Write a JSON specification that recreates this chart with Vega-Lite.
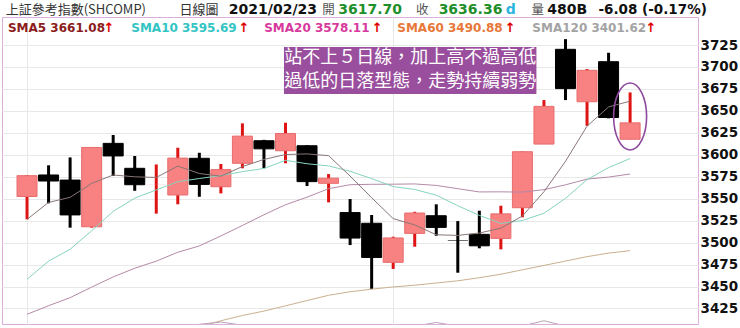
{
  "$schema": "https://vega.github.io/schema/vega-lite/v6.json",
  "width": 696,
  "height": 307,
  "autosize": "none",
  "padding": {"left": 2, "top": 17, "right": 42, "bottom": 4},
  "background": "white",
  "config": {
    "view": {"stroke": "#dcaedc", "strokeWidth": 1},
    "axis": {"labelOverlap": false}
  },
  "data": {
    "values": [
      {"date": "2021-01-07", "i": 0, "open": 3552.5, "high": 3577.0, "low": 3526.5, "close": 3576.20, "sma5": 3526.4, "sma10": 3458.2, "sma20": 3418.3, "sma60": null, "sma120": null},
      {"date": "2021-01-08", "i": 1, "open": 3577.0, "high": 3588.0, "low": 3544.7, "close": 3570.11, "sma5": 3545.8, "sma10": 3478.9, "sma20": 3428.1, "sma60": null, "sma120": null},
      {"date": "2021-01-11", "i": 2, "open": 3571.2, "high": 3597.0, "low": 3517.0, "close": 3531.50, "sma5": 3551.5, "sma10": 3492.4, "sma20": 3437.3, "sma60": null, "sma120": null},
      {"date": "2021-01-12", "i": 3, "open": 3518.0, "high": 3608.5, "low": 3517.0, "close": 3608.34, "sma5": 3567.4, "sma10": 3513.5, "sma20": 3449.3, "sma60": null, "sma120": null},
      {"date": "2021-01-13", "i": 4, "open": 3613.0, "high": 3622.5, "low": 3575.8, "close": 3598.65, "sma5": 3577.0, "sma10": 3535.5, "sma20": 3460.9, "sma60": null, "sma120": null},
      {"date": "2021-01-14", "i": 5, "open": 3584.6, "high": 3598.6, "low": 3559.0, "close": 3565.90, "sma5": 3574.9, "sma10": 3550.6, "sma20": 3470.8, "sma60": null, "sma120": null},
      {"date": "2021-01-15", "i": 6, "open": 3566.2, "high": 3589.0, "low": 3533.0, "close": 3566.38, "sma5": 3574.2, "sma10": 3560.0, "sma20": 3478.9, "sma60": null, "sma120": null},
      {"date": "2021-01-18", "i": 7, "open": 3554.2, "high": 3608.0, "low": 3543.6, "close": 3596.22, "sma5": 3587.1, "sma10": 3569.3, "sma20": 3489.0, "sma60": null, "sma120": null},
      {"date": "2021-01-19", "i": 8, "open": 3596.0, "high": 3602.3, "low": 3552.2, "close": 3566.27, "sma5": 3578.7, "sma10": 3573.0, "sma20": 3496.2, "sma60": 3404.0, "sma120": 3407.0},
      {"date": "2021-01-20", "i": 9, "open": 3563.6, "high": 3589.5, "low": 3556.0, "close": 3583.09, "sma5": 3575.6, "sma10": 3576.3, "sma20": 3507.6, "sma60": 3411.0, "sma120": 3409.5},
      {"date": "2021-01-21", "i": 10, "open": 3590.3, "high": 3635.8, "low": 3584.6, "close": 3621.26, "sma5": 3586.6, "sma10": 3580.8, "sma20": 3519.5, "sma60": 3417.0, "sma120": 3406.0},
      {"date": "2021-01-22", "i": 11, "open": 3616.0, "high": 3617.0, "low": 3584.6, "close": 3606.75, "sma5": 3594.7, "sma10": 3584.4, "sma20": 3531.7, "sma60": 3422.0, "sma120": 3404.0},
      {"date": "2021-01-25", "i": 12, "open": 3604.6, "high": 3636.5, "low": 3590.3, "close": 3624.24, "sma5": 3600.3, "sma10": 3593.7, "sma20": 3543.1, "sma60": 3428.0, "sma120": 3403.0},
      {"date": "2021-01-26", "i": 13, "open": 3610.3, "high": 3611.0, "low": 3564.4, "close": 3569.43, "sma5": 3601.0, "sma10": 3589.8, "sma20": 3551.7, "sma60": 3434.0, "sma120": 3403.0},
      {"date": "2021-01-27", "i": 14, "open": 3567.5, "high": 3578.0, "low": 3545.8, "close": 3573.34, "sma5": 3599.0, "sma10": 3587.3, "sma20": 3561.4, "sma60": 3440.0, "sma120": 3403.0},
      {"date": "2021-01-28", "i": 15, "open": 3534.2, "high": 3549.6, "low": 3497.2, "close": 3505.18, "sma5": 3575.8, "sma10": 3581.2, "sma20": 3565.9, "sma60": 3444.0, "sma120": 3403.0},
      {"date": "2021-01-29", "i": 16, "open": 3522.0, "high": 3531.4, "low": 3447.0, "close": 3483.07, "sma5": 3551.1, "sma10": 3572.9, "sma20": 3566.4, "sma60": 3447.0, "sma120": 3404.0},
      {"date": "2021-02-01", "i": 17, "open": 3477.5, "high": 3506.7, "low": 3470.0, "close": 3505.28, "sma5": 3527.3, "sma10": 3563.8, "sma20": 3566.5, "sma60": 3449.5, "sma120": 3405.0},
      {"date": "2021-02-02", "i": 18, "open": 3510.5, "high": 3535.1, "low": 3495.3, "close": 3533.68, "sma5": 3520.1, "sma10": 3560.5, "sma20": 3566.8, "sma60": 3451.5, "sma120": 3405.0},
      {"date": "2021-02-03", "i": 19, "open": 3530.6, "high": 3543.6, "low": 3507.8, "close": 3517.31, "sma5": 3508.9, "sma10": 3554.0, "sma20": 3565.1, "sma60": 3454.0, "sma120": 3409.0},
      {"date": "2021-02-04", "i": 20, "open": 3502.5, "high": 3524.5, "low": 3465.7, "close": 3501.86, "sma5": 3508.2, "sma10": 3542.0, "sma20": 3561.4, "sma60": 3456.5, "sma120": 3405.0},
      {"date": "2021-02-05", "i": 21, "open": 3509.4, "high": 3536.3, "low": 3493.5, "close": 3496.33, "sma5": 3510.9, "sma10": 3531.0, "sma20": 3557.7, "sma60": 3460.0, "sma120": 3405.0},
      {"date": "2021-02-08", "i": 22, "open": 3504.8, "high": 3542.0, "low": 3492.3, "close": 3532.71, "sma5": 3516.4, "sma10": 3521.8, "sma20": 3557.8, "sma60": 3464.0, "sma120": 3404.0},
      {"date": "2021-02-09", "i": 23, "open": 3539.7, "high": 3603.6, "low": 3528.8, "close": 3603.49, "sma5": 3530.3, "sma10": 3525.2, "sma20": 3557.5, "sma60": 3469.0, "sma120": 3405.0},
      {"date": "2021-02-10", "i": 24, "open": 3612.2, "high": 3662.3, "low": 3612.2, "close": 3655.09, "sma5": 3557.9, "sma10": 3533.4, "sma20": 3560.3, "sma60": 3474.0, "sma120": 3411.0},
      {"date": "2021-02-18", "i": 25, "open": 3720.1, "high": 3731.7, "low": 3662.3, "close": 3675.36, "sma5": 3592.6, "sma10": 3550.4, "sma20": 3565.8, "sma60": 3479.0, "sma120": 3405.0},
      {"date": "2021-02-19", "i": 26, "open": 3660.4, "high": 3697.6, "low": 3633.0, "close": 3696.17, "sma5": 3632.6, "sma10": 3571.7, "sma20": 3572.3, "sma60": 3484.0, "sma120": 3403.0},
      {"date": "2021-02-22", "i": 27, "open": 3706.0, "high": 3716.2, "low": 3641.5, "close": 3642.44, "sma5": 3654.5, "sma10": 3585.4, "sma20": 3574.6, "sma60": 3488.0, "sma120": 3402.0},
      {"date": "2021-02-23", "i": 28, "open": 3617.70, "high": 3671.0, "low": 3617.7, "close": 3636.36, "sma5": 3661.08, "sma10": 3595.69, "sma20": 3578.11, "sma60": 3490.88, "sma120": 3401.62}
    ]
  },
  "encoding": {
    "x": {
      "field": "i",
      "type": "quantitative",
      "scale": {"domain": [-0.93, 30.92], "nice": false, "zero": false},
      "axis": {"values": [0, 17], "tickCount": 40, "grid": true, "gridColor": "#e6e6e6", "labels": false, "ticks": false, "domain": false, "title": null}
    }
  },
  "layer": [
    {
      "mark": {"type": "rule", "strokeWidth": 3},
      "encoding": {
        "y": {
          "field": "low",
          "type": "quantitative",
          "scale": {"domain": [3407.3, 3756.9], "nice": false, "zero": false},
          "axis": {
            "orient": "right",
            "values": [3425, 3450, 3475, 3500, 3525, 3550, 3575, 3600, 3625, 3650, 3675, 3700, 3725],
            "tickCount": 40,
            "format": "d",
            "labelOverlap": false,
            "title": null,
            "grid": true,
            "gridColor": "#e8e8e8",
            "ticks": false,
            "domain": false,
            "labelFont": "DejaVu Sans",
            "labelFontWeight": "bold",
            "labelFontSize": 13.5,
            "labelColor": "#111111",
            "labelPadding": 2
          }
        },
        "y2": {"field": "high"},
        "color": {"condition": {"test": "datum.close >= datum.open", "value": "#de1414"}, "value": "#000000"}
      }
    },
    {
      "mark": {"type": "bar", "size": 20, "strokeWidth": 1},
      "encoding": {
        "y": {"field": "open", "type": "quantitative", "axis": {"title": null}},
        "y2": {"field": "close"},
        "fill": {"condition": {"test": "datum.close >= datum.open", "value": "#f88181"}, "value": "#000000"},
        "stroke": {"condition": {"test": "datum.close >= datum.open", "value": "#e86c6c"}, "value": "#000000"},
        "strokeOpacity": {"condition": {"test": "abs(datum.close - datum.open) < 1", "value": 0}, "value": 1}
      }
    },
    {
      "mark": {"type": "line", "strokeWidth": 1, "color": "#cbb08e", "clip": true},
      "encoding": {"y": {"field": "sma60", "type": "quantitative", "axis": {"title": null}}}
    },
    {
      "mark": {"type": "line", "strokeWidth": 1, "color": "#b7a3b7", "clip": true},
      "encoding": {"y": {"field": "sma120", "type": "quantitative", "axis": {"title": null}}}
    },
    {
      "mark": {"type": "line", "strokeWidth": 1, "color": "#b48aa8", "clip": true},
      "encoding": {"y": {"field": "sma20", "type": "quantitative", "axis": {"title": null}}}
    },
    {
      "mark": {"type": "line", "strokeWidth": 1, "color": "#86d3c0", "clip": true},
      "encoding": {"y": {"field": "sma10", "type": "quantitative", "axis": {"title": null}}}
    },
    {
      "mark": {"type": "line", "strokeWidth": 1, "color": "#8a7676", "clip": true},
      "encoding": {"y": {"field": "sma5", "type": "quantitative", "axis": {"title": null}}}
    },
    {
      "transform": [{"filter": "datum.i == 28"}],
      "mark": {"type": "point", "filled": false, "stroke": "#8e4a9e", "strokeWidth": 1.6, "opacity": 1, "size": 4489,
        "shape": "M0,-1C0.272,-1 0.4925,-0.5523 0.4925,0C0.4925,0.5523 0.272,1 0,1C-0.272,1 -0.4925,0.5523 -0.4925,0C-0.4925,-0.5523 -0.272,-1 0,-1Z"},
      "encoding": {"y": {"datum": 3643.6, "type": "quantitative", "axis": {"title": null}}}
    },
    {
      "transform": [{"filter": "datum.i == 28"}],
      "mark": {"type": "rect", "color": "#9a4f9e"},
      "encoding": {
        "x": {"datum": 11.93, "type": "quantitative"},
        "x2": {"datum": 23.65},
        "y": {"datum": 3722.7, "type": "quantitative", "axis": {"title": null}},
        "y2": {"datum": 3669.2}
      }
    },
    {
      "transform": [{"filter": "datum.i == 28"}],
      "mark": {"type": "text", "text": "站不上５日線，加上高不過高低", "font": "Noto Sans CJK TC", "fontSize": 18, "color": "#ffffff", "align": "center", "baseline": "middle"},
      "encoding": {"x": {"datum": 17.79, "type": "quantitative"}, "y": {"datum": 3709.9, "type": "quantitative", "axis": {"title": null}}}
    },
    {
      "transform": [{"filter": "datum.i == 28"}],
      "mark": {"type": "text", "text": "過低的日落型態，走勢持續弱勢", "font": "Noto Sans CJK TC", "fontSize": 18, "color": "#ffffff", "align": "center", "baseline": "middle"},
      "encoding": {"x": {"datum": 17.79, "type": "quantitative"}, "y": {"datum": 3683.2, "type": "quantitative", "axis": {"title": null}}}
    },
    {"transform": [{"filter": "datum.i == 28"}], "mark": {"type": "text", "text": "上証參考指數(SHCOMP)", "font": "Noto Sans CJK TC", "fontSize": 13, "color": "#333333", "align": "left", "baseline": "middle"},
      "encoding": {"x": {"datum": -0.99, "type": "quantitative"}, "y": {"datum": 3764.9, "type": "quantitative", "axis": {"title": null}}}},
    {"transform": [{"filter": "datum.i == 28"}], "mark": {"type": "text", "text": "日線圖", "font": "Noto Sans CJK TC", "fontSize": 13, "color": "#333333", "align": "left", "baseline": "middle"},
      "encoding": {"x": {"datum": 7.08, "type": "quantitative"}, "y": {"datum": 3764.9, "type": "quantitative", "axis": {"title": null}}}},
    {"transform": [{"filter": "datum.i == 28"}], "mark": {"type": "text", "text": "2021/02/23", "font": "DejaVu Sans", "fontWeight": "bold", "fontSize": 14, "color": "#111111", "align": "left", "baseline": "middle"},
      "encoding": {"x": {"datum": 9.37, "type": "quantitative"}, "y": {"datum": 3765.4, "type": "quantitative", "axis": {"title": null}}}},
    {"transform": [{"filter": "datum.i == 28"}], "mark": {"type": "text", "text": "開", "font": "Noto Sans CJK TC", "fontSize": 12.5, "color": "#555555", "align": "left", "baseline": "middle"},
      "encoding": {"x": {"datum": 13.71, "type": "quantitative"}, "y": {"datum": 3764.9, "type": "quantitative", "axis": {"title": null}}}},
    {"transform": [{"filter": "datum.i == 28"}], "mark": {"type": "text", "text": "3617.70", "font": "DejaVu Sans", "fontWeight": "bold", "fontSize": 14, "color": "#1f8f2a", "align": "left", "baseline": "middle"},
      "encoding": {"x": {"datum": 14.45, "type": "quantitative"}, "y": {"datum": 3765.4, "type": "quantitative", "axis": {"title": null}}}},
    {"transform": [{"filter": "datum.i == 28"}], "mark": {"type": "text", "text": "收", "font": "Noto Sans CJK TC", "fontSize": 12.5, "color": "#555555", "align": "left", "baseline": "middle"},
      "encoding": {"x": {"datum": 18.06, "type": "quantitative"}, "y": {"datum": 3764.9, "type": "quantitative", "axis": {"title": null}}}},
    {"transform": [{"filter": "datum.i == 28"}], "mark": {"type": "text", "text": "3636.36", "font": "DejaVu Sans", "fontWeight": "bold", "fontSize": 14, "color": "#1f8f2a", "align": "left", "baseline": "middle"},
      "encoding": {"x": {"datum": 19.11, "type": "quantitative"}, "y": {"datum": 3765.4, "type": "quantitative", "axis": {"title": null}}}},
    {"transform": [{"filter": "datum.i == 28"}], "mark": {"type": "text", "text": "d", "font": "DejaVu Sans", "fontWeight": "bold", "fontSize": 14, "color": "#2ab4de", "align": "left", "baseline": "middle"},
      "encoding": {"x": {"datum": 22.23, "type": "quantitative"}, "y": {"datum": 3765.4, "type": "quantitative", "axis": {"title": null}}}},
    {"transform": [{"filter": "datum.i == 28"}], "mark": {"type": "text", "text": "量", "font": "Noto Sans CJK TC", "fontSize": 12.5, "color": "#555555", "align": "left", "baseline": "middle"},
      "encoding": {"x": {"datum": 23.42, "type": "quantitative"}, "y": {"datum": 3764.9, "type": "quantitative", "axis": {"title": null}}}},
    {"transform": [{"filter": "datum.i == 28"}], "mark": {"type": "text", "text": "480B", "font": "DejaVu Sans", "fontWeight": "bold", "fontSize": 14, "color": "#111111", "align": "left", "baseline": "middle"},
      "encoding": {"x": {"datum": 24.15, "type": "quantitative"}, "y": {"datum": 3765.4, "type": "quantitative", "axis": {"title": null}}}},
    {"transform": [{"filter": "datum.i == 28"}], "mark": {"type": "text", "text": "-6.08 (-0.17%)", "font": "DejaVu Sans", "fontWeight": "bold", "fontSize": 13.5, "color": "#111111", "align": "left", "baseline": "middle"},
      "encoding": {"x": {"datum": 26.53, "type": "quantitative"}, "y": {"datum": 3765.4, "type": "quantitative", "axis": {"title": null}}}},
    {"transform": [{"filter": "datum.i == 28"}], "mark": {"type": "text", "text": "SMA5 3661.08", "font": "DejaVu Sans", "fontWeight": "bold", "fontSize": 12, "color": "#8b1c1c", "align": "left", "baseline": "middle"},
      "encoding": {"x": {"datum": -0.885, "type": "quantitative"}, "y": {"datum": 3744.9, "type": "quantitative", "axis": {"title": null}}}},
    {"transform": [{"filter": "datum.i == 28"}], "mark": {"type": "text", "text": "↑", "font": "DejaVu Sans", "fontWeight": "bold", "fontSize": 13, "color": "#e00000", "align": "left", "baseline": "middle"},
      "encoding": {"x": {"datum": 3.55, "type": "quantitative"}, "y": {"datum": 3744.9, "type": "quantitative", "axis": {"title": null}}}},
    {"transform": [{"filter": "datum.i == 28"}], "mark": {"type": "text", "text": "SMA10 3595.69", "font": "DejaVu Sans", "fontWeight": "bold", "fontSize": 12, "color": "#33c4c4", "align": "left", "baseline": "middle"},
      "encoding": {"x": {"datum": 4.84, "type": "quantitative"}, "y": {"datum": 3744.9, "type": "quantitative", "axis": {"title": null}}}},
    {"transform": [{"filter": "datum.i == 28"}], "mark": {"type": "text", "text": "↑", "font": "DejaVu Sans", "fontWeight": "bold", "fontSize": 13, "color": "#e00000", "align": "left", "baseline": "middle"},
      "encoding": {"x": {"datum": 9.82, "type": "quantitative"}, "y": {"datum": 3744.9, "type": "quantitative", "axis": {"title": null}}}},
    {"transform": [{"filter": "datum.i == 28"}], "mark": {"type": "text", "text": "SMA20 3578.11", "font": "DejaVu Sans", "fontWeight": "bold", "fontSize": 12, "color": "#d8399c", "align": "left", "baseline": "middle"},
      "encoding": {"x": {"datum": 11.01, "type": "quantitative"}, "y": {"datum": 3744.9, "type": "quantitative", "axis": {"title": null}}}},
    {"transform": [{"filter": "datum.i == 28"}], "mark": {"type": "text", "text": "↑", "font": "DejaVu Sans", "fontWeight": "bold", "fontSize": 13, "color": "#e00000", "align": "left", "baseline": "middle"},
      "encoding": {"x": {"datum": 16.0, "type": "quantitative"}, "y": {"datum": 3744.9, "type": "quantitative", "axis": {"title": null}}}},
    {"transform": [{"filter": "datum.i == 28"}], "mark": {"type": "text", "text": "SMA60 3490.88", "font": "DejaVu Sans", "fontWeight": "bold", "fontSize": 12, "color": "#e8773a", "align": "left", "baseline": "middle"},
      "encoding": {"x": {"datum": 17.19, "type": "quantitative"}, "y": {"datum": 3744.9, "type": "quantitative", "axis": {"title": null}}}},
    {"transform": [{"filter": "datum.i == 28"}], "mark": {"type": "text", "text": "↑", "font": "DejaVu Sans", "fontWeight": "bold", "fontSize": 13, "color": "#e00000", "align": "left", "baseline": "middle"},
      "encoding": {"x": {"datum": 22.18, "type": "quantitative"}, "y": {"datum": 3744.9, "type": "quantitative", "axis": {"title": null}}}},
    {"transform": [{"filter": "datum.i == 28"}], "mark": {"type": "text", "text": "SMA120 3401.62", "font": "DejaVu Sans", "fontWeight": "bold", "fontSize": 12, "color": "#a3a3a3", "align": "left", "baseline": "middle"},
      "encoding": {"x": {"datum": 23.46, "type": "quantitative"}, "y": {"datum": 3744.9, "type": "quantitative", "axis": {"title": null}}}},
    {"transform": [{"filter": "datum.i == 28"}], "mark": {"type": "text", "text": "↑", "font": "DejaVu Sans", "fontWeight": "bold", "fontSize": 13, "color": "#e00000", "align": "left", "baseline": "middle"},
      "encoding": {"x": {"datum": 28.72, "type": "quantitative"}, "y": {"datum": 3744.9, "type": "quantitative", "axis": {"title": null}}}}
  ]
}
